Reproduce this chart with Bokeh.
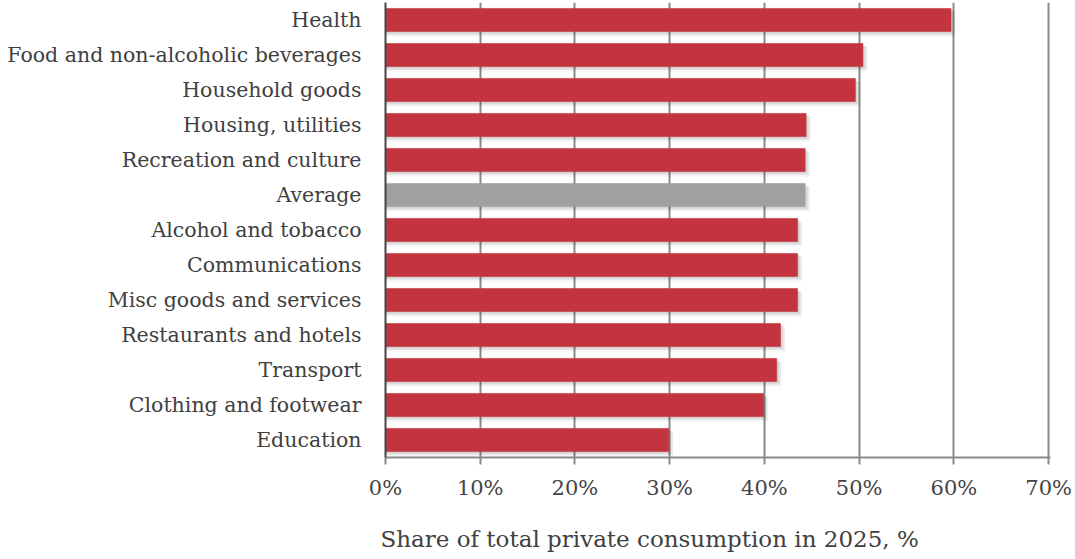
from bokeh.plotting import figure
from bokeh.models import ColumnDataSource, FixedTicker, PrintfTickFormatter, Title
from bokeh.transform import dodge
from bokeh.embed import file_html
from bokeh.resources import INLINE

categories = ["Health", "Food and non-alcoholic beverages", "Household goods",
              "Housing, utilities", "Recreation and culture", "Average",
              "Alcohol and tobacco", "Communications", "Misc goods and services",
              "Restaurants and hotels", "Transport", "Clothing and footwear", "Education"]
values = [59.7, 50.4, 49.6, 44.4, 44.3, 44.3, 43.5, 43.5, 43.5, 41.7, 41.3, 39.9, 29.9]
colors = ["#C3343F"] * 5 + ["#A0A0A0"] + ["#C3343F"] * 7
x_ticks = [0, 10, 20, 30, 40, 50, 60, 70]
x_label = "Share of total private consumption in 2025, %"

factors = list(reversed(categories))
src = ColumnDataSource(dict(cat=categories, val=values, col=colors,
                            sh1=[v + 0.25 for v in values],
                            sh2=[v + 0.45 for v in values]))

SERIF = "DejaVu Serif"

p = figure(y_range=factors, x_range=(0, 70.2), frame_width=665, frame_height=455,
           output_backend="svg", toolbar_location=None,
           min_border_left=385, min_border_right=25, min_border_top=2, min_border_bottom=102)
p.outline_line_color = None
p.background_fill_color = "white"

# soft shadow layers
p.hbar(y=dodge("cat", -0.12, range=p.y_range), left=0, right="sh2", height=0.72,
       source=src, fill_color="black", fill_alpha=0.04, line_color=None)
p.hbar(y=dodge("cat", -0.09, range=p.y_range), left=0, right="sh2", height=0.68,
       source=src, fill_color="black", fill_alpha=0.05, line_color=None)
p.hbar(y=dodge("cat", -0.06, range=p.y_range), left=0, right="sh1", height=0.66,
       source=src, fill_color="black", fill_alpha=0.07, line_color=None)

p.hbar(y="cat", left=0, right="val", height=0.66, source=src,
       fill_color="col", line_color="col", line_alpha=0.6, line_width=1)

p.xaxis.ticker = FixedTicker(ticks=x_ticks)
p.xaxis.formatter = PrintfTickFormatter(format="%d%%")
p.xaxis.axis_line_color = "#8a8a8a"
p.xaxis.axis_line_width = 2
p.xaxis.major_tick_line_color = "#8a8a8a"
p.xaxis.major_tick_line_width = 2
p.xaxis.major_tick_in = 0
p.xaxis.major_tick_out = 7
p.xaxis.minor_tick_line_color = None
p.xaxis.major_label_text_font = SERIF
p.xaxis.major_label_text_font_size = "21px"
p.xaxis.major_label_text_color = "#444444"
p.xaxis.major_label_standoff = 11

p.yaxis.axis_line_color = "#444444"
p.yaxis.axis_line_width = 2
p.yaxis.major_tick_line_color = None
p.yaxis.minor_tick_line_color = None
p.yaxis.major_label_text_font = SERIF
p.yaxis.major_label_text_font_size = "20.5px"
p.yaxis.major_label_text_color = "#404040"
p.yaxis.major_label_standoff = 18

p.xgrid.ticker = FixedTicker(ticks=x_ticks)
p.xgrid.grid_line_color = "#8a8a8a"
p.xgrid.grid_line_width = 2
p.ygrid.grid_line_color = None

p.add_layout(Title(text=x_label, align="left", offset=-5, text_font=SERIF,
                   text_font_size="23px", text_font_style="normal",
                   text_color="#404040", standoff=42), "below")

open("out.html", "w").write(file_html(p, INLINE))
